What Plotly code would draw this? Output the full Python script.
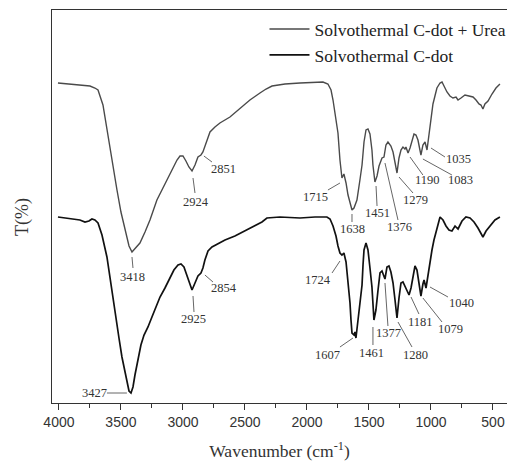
import plotly.graph_objects as go

# Upper curve: Solvothermal C-dot + Urea (wavenumber cm-1, transmittance arbitrary units)
urea_wn = [4008, 3911, 3831, 3750, 3710, 3685, 3645, 3613, 3573, 3532, 3500, 3468, 3435, 3411, 3379,
           3347, 3306, 3266, 3210, 3169, 3129, 3081, 3048, 3024, 3000, 2976, 2952, 2927, 2903, 2879,
           2855, 2839, 2814, 2782, 2742, 2702, 2621, 2540, 2460, 2379, 2330, 2282, 2177, 2056, 1935,
           1871, 1831, 1806, 1790, 1774, 1750, 1734, 1718, 1702, 1685, 1669, 1653, 1637, 1621, 1597,
           1573, 1556, 1540, 1524, 1508, 1492, 1476, 1468, 1452, 1435, 1419, 1395, 1379, 1363, 1347,
           1323, 1306, 1290, 1274, 1258, 1242, 1226, 1210, 1202, 1185, 1169, 1153, 1137, 1121, 1105,
           1089, 1081, 1065, 1048, 1032, 1016, 1000, 984, 968, 952, 927, 911, 895, 871, 847,
           823, 798, 782, 758, 726, 694, 661, 637, 613, 597, 581, 565, 540, 508, 476, 444]
urea_t = [320, 319, 318, 317, 315, 313, 298, 273, 243, 213, 191, 173, 157, 151, 155,
          160, 171, 183, 203, 213, 223, 235, 243, 247, 247, 242, 236, 232, 238, 246,
          248, 251, 260, 271, 276, 280, 286, 295, 303, 310, 314, 317, 319, 320, 321,
          321, 319, 313, 303, 288, 270, 243, 225, 229, 220, 208, 199, 193, 195, 203,
          223, 238, 261, 273, 274, 269, 253, 238, 221, 227, 237, 245, 246, 258, 261,
          257, 251, 241, 230, 245, 253, 256, 254, 256, 250, 255, 261, 269, 268, 263,
          253, 248, 258, 261, 253, 268, 286, 299, 307, 315, 320, 321, 317, 311, 307,
          305, 306, 303, 305, 308, 307, 306, 303, 299, 298, 294, 299, 302, 309, 315, 319]

# Lower curve: Solvothermal C-dot
cdot_wn = [4008, 3952, 3871, 3831, 3790, 3758, 3734, 3710, 3685, 3653, 3613, 3581, 3548, 3516, 3492,
           3468, 3452, 3435, 3419, 3403, 3387, 3363, 3339, 3314, 3282, 3250, 3218, 3185, 3145, 3105,
           3073, 3040, 3016, 2992, 2968, 2944, 2927, 2903, 2879, 2855, 2839, 2823, 2798, 2766, 2718,
           2661, 2581, 2500, 2419, 2363, 2323, 2218, 2056, 1935, 1839, 1814, 1790, 1766, 1750, 1734,
           1718, 1702, 1685, 1669, 1653, 1645, 1637, 1621, 1613, 1605, 1589, 1573, 1556, 1548, 1540,
           1524, 1508, 1492, 1476, 1460, 1444, 1427, 1411, 1395, 1371, 1355, 1339, 1323, 1306, 1290,
           1274, 1258, 1242, 1226, 1210, 1194, 1177, 1161, 1145, 1129, 1113, 1097, 1081, 1065, 1056,
           1040, 1024, 1008, 992, 976, 952, 927, 903, 879, 855, 831, 806, 782, 750, 718,
           685, 653, 621, 597, 581, 556, 524, 484, 444]
cdot_t = [186, 185, 184, 183, 181, 182, 184, 183, 180, 168, 146, 118, 90, 65, 46,
          30, 20, 12, 10, 16, 28, 45, 58, 68, 76, 86, 96, 106, 115, 126,
          133, 138, 139, 136, 128, 118, 113, 120, 127, 130, 135, 143, 152, 156, 159,
          163, 167, 172, 177, 181, 185, 186, 185, 186, 186, 184, 177, 167, 157, 150,
          148, 150, 141, 123, 100, 83, 70, 68, 71, 65, 81, 98, 118, 138, 153,
          160, 153, 135, 116, 83, 93, 113, 130, 132, 124, 136, 137, 131, 120, 103,
          85, 105, 120, 121, 117, 113, 108, 115, 128, 137, 133, 121, 107, 119, 123,
          115, 129, 141, 153, 163, 175, 186, 183, 177, 173, 172, 177, 174, 182, 186,
          185, 181, 175, 169, 166, 172, 177, 183, 186]

# Peak labels: text, text position (wn, T), leader line start/end (wn, T)
peak_labels = ["3418", "2924", "2851", "1715", "1638", "1451", "1376", "1279", "1190", "1083", "1035",
               "3427", "2925", "2854", "1724", "1607", "1461", "1377", "1280", "1181", "1079", "1040"]
label_wn = [3403, 2895, 2677, 1935, 1629, 1435, 1250, 1121, 1032, 766, 782,
            3710, 2919, 2669, 1911, 1831, 1476, 1339, 1121, 1081, 839, 750]
label_t = [126, 201, 234, 206, 174, 190, 176, 203, 223, 223, 244,
           10, 84, 115, 123, 48, 50, 70, 48, 81, 74, 100]
lead_wn0 = [3411, 2919, 2831, 1831, 1637, 1443, 1371, 1258, 1169, 1065, 1000,
            3613, 2919, 2823, 1798, 1734, 1468, 1371, 1266, 1161, 1065, 1008]
lead_t0 = [146, 225, 247, 213, 189, 217, 240, 226, 246, 244, 255,
           10, 107, 128, 130, 56, 76, 120, 81, 106, 105, 116]
lead_wn1 = [3403, 2903, 2766, 1734, 1637, 1435, 1266, 1145, 1065, 831, 887,
            3452, 2911, 2758, 1734, 1629, 1468, 1347, 1153, 1097, 911, 863]
lead_t1 = [135, 210, 241, 220, 181, 197, 183, 210, 228, 228, 246,
           10, 91, 121, 142, 65, 58, 77, 56, 89, 81, 106]

serif = "Liberation Serif, Times New Roman, serif"
sans = "Liberation Sans, Arial, sans-serif"

fig = go.Figure()
fig.add_trace(go.Scatter(x=urea_wn, y=urea_t, mode="lines", name="Solvothermal C-dot + Urea",
                         line=dict(color="#4a4a4a", width=1.4)))
fig.add_trace(go.Scatter(x=cdot_wn, y=cdot_t, mode="lines", name="Solvothermal C-dot",
                         line=dict(color="#111111", width=1.7)))

for i in range(len(peak_labels)):
    fig.add_shape(type="line", xref="x", yref="y",
                  x0=lead_wn0[i], y0=lead_t0[i], x1=lead_wn1[i], y1=lead_t1[i],
                  line=dict(color="#555555", width=0.9))
    fig.add_annotation(x=label_wn[i], y=label_t[i], text=peak_labels[i], showarrow=False,
                       font=dict(family=serif, size=12.5, color="#333333"),
                       xanchor="center", yanchor="middle")

# Y-axis title (placed as a rotated label, slightly below the axis centre as in the reference)
fig.add_annotation(xref="paper", yref="paper", x=-0.066, y=0.473, text="T(%)", textangle=-90,
                   showarrow=False, xanchor="center", yanchor="middle",
                   font=dict(family=serif, size=18, color="#333333"))

fig.update_layout(
    width=507, height=461,
    margin=dict(l=52, r=0, t=10, b=58, autoexpand=False),
    plot_bgcolor="white", paper_bgcolor="white",
    showlegend=True,
    legend=dict(x=0.467, y=0.997, xanchor="left", yanchor="top",
                bgcolor="rgba(0,0,0,0)", font=dict(family=serif, size=17.5, color="#222222"),
                itemwidth=40, tracegroupgap=0),
)
fig.update_xaxes(range=[4056, 387], showline=True, linecolor="#333333", linewidth=1.3, mirror=True,
                 showgrid=False, zeroline=False, ticks="outside", ticklen=6, tickwidth=1.2,
                 tickcolor="#333333", tickvals=[4000, 3500, 3000, 2500, 2000, 1500, 1000, 500],
                 minor=dict(ticks="outside", ticklen=4, tickwidth=1.2, tickcolor="#333333",
                            tickvals=[3750, 3250, 2750, 2250, 1750, 1250, 750]),
                 tickfont=dict(family=sans, size=14, color="#333333"), automargin=False,
                 title=dict(text="Wavenumber (cm<sup>-1</sup>)", font=dict(family=serif, size=17.5, color="#333333"),
                            standoff=17))
fig.update_yaxes(range=[0, 393], showline=True, linecolor="#333333", linewidth=1.3, mirror=False,
                 showgrid=False, zeroline=False, showticklabels=False, ticks="", automargin=False)

fig.write_html("out.html", config={"displayModeBar": False},
               post_script="document.body.style.margin='0';")
